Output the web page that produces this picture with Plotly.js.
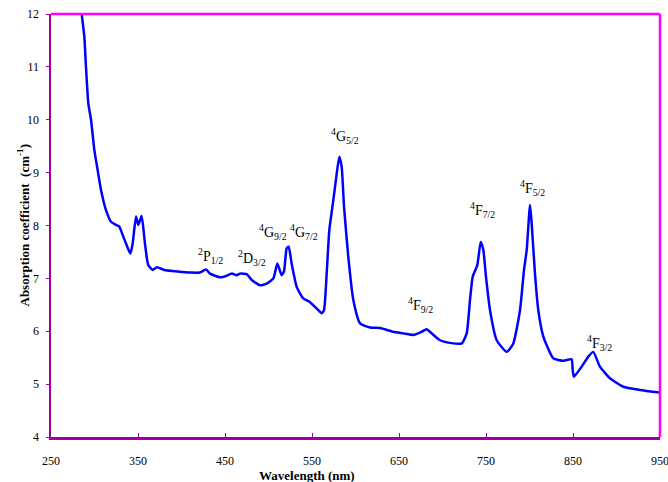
<!DOCTYPE html>
<html>
<head>
<meta charset="utf-8">
<script src="https://cdn.plot.ly/plotly-3.0.1.min.js"></script>
<style>html,body{margin:0;padding:0;background:#fff}#chart{width:668px;height:482px}</style>
</head>
<body>
<div id="chart"></div>
<script>
const wavelength = [285.3,288.3,290.2,292.9,296,299.8,303.6,307.5,313.2,319,324.7,328.5,332.4,336.2,341.2,343.9,347.7,350.4,354.2,358,361.8,366.9,371.8,380,395.6,411,421,428.2,432.8,444.3,452,457.7,463.4,467.2,475,480.7,490.2,498,505.6,510.2,515.1,517.8,520.9,523.2,526.6,532.4,540,547.7,556,561.1,563.8,566.9,569.9,574.5,578.4,581.4,584.1,586.8,591.7,597.5,605.2,616.7,628.2,643.4,655,666.4,676,681.8,687.6,697.1,708.6,722.1,727.8,731.6,734.7,740,743.9,746.9,750,754.6,762.3,773.8,781.4,789.1,793.7,796.8,800.6,802.5,806.3,810.1,815.9,827.4,838.9,848.4,849.6,851.1,859.9,867.6,873.3,881,892.5,907.8,927,950];
const absorption = [12.0,11.57,11.0,10.31,10.0,9.43,9.05,8.67,8.29,8.07,8.01,7.98,7.82,7.66,7.47,7.66,8.17,8.01,8.18,7.66,7.25,7.16,7.21,7.16,7.13,7.11,7.11,7.17,7.09,7.02,7.05,7.09,7.06,7.09,7.08,6.97,6.87,6.90,7.0,7.28,7.06,7.13,7.57,7.60,7.28,6.84,6.62,6.55,6.42,6.34,6.40,7.10,7.91,8.48,8.98,9.30,9.11,8.36,7.41,6.59,6.15,6.07,6.06,5.99,5.96,5.93,5.99,6.04,5.96,5.83,5.78,5.77,5.96,6.59,7.03,7.25,7.69,7.54,7.03,6.40,5.83,5.61,5.77,6.40,7.16,7.54,8.39,8.04,7.09,6.40,5.90,5.49,5.44,5.47,5.27,5.14,5.33,5.52,5.61,5.33,5.11,4.95,4.89,4.84];

const labelText = ['<sup>2</sup>P<sub>1/2</sub>','<sup>2</sup>D<sub>3/2</sub>','<sup>4</sup>G<sub>9/2</sub>','<sup>4</sup>G<sub>7/2</sub>','<sup>4</sup>G<sub>5/2</sub>','<sup>4</sup>F<sub>9/2</sub>','<sup>4</sup>F<sub>7/2</sub>','<sup>4</sup>F<sub>5/2</sub>','<sup>4</sup>F<sub>3/2</sub>'];
const labelX = [433,481,505,541,588,675,746.5,803,881];
const labelY = [7.42,7.38,7.88,7.88,9.69,6.5,8.29,8.71,5.78];

const xTicks = [250,350,450,550,650,750,850,950];
const yTicks = [4,5,6,7,8,9,10,11,12];

const serif = 'Liberation Serif, DejaVu Serif, serif';

const annotations = labelText.map((t,i)=>({
  x: labelX[i], y: labelY[i], xref:'x', yref:'y', text: t, showarrow:false,
  font:{family:serif,size:14,color:'#000'}
}));
annotations.push({xref:'paper',yref:'paper',x:0.42,y:0,yshift:-38,yanchor:'middle',text:'<b>Wavelength (nm)</b>',showarrow:false,font:{family:serif,size:13,color:'#000'}});
annotations.push({xref:'paper',yref:'paper',x:0,xshift:-38,y:0.5,textangle:-90,text:'<b>Absorption coefficient  (cm<sup>-1</sup>)</b>',showarrow:false,font:{family:serif,size:13,color:'#000'}});

const layout = {
  width:668, height:482,
  margin:{l:51,r:8,t:14,b:45},
  paper_bgcolor:'#fff', plot_bgcolor:'#fff',
  showlegend:false,
  font:{family:serif,color:'#000'},
  xaxis:{range:[250,950],tickvals:xTicks,ticktext:xTicks.map(String),showgrid:false,zeroline:false,
    showline:true,linecolor:'#a000a0',linewidth:2.5,ticks:'inside',ticklen:4,tickcolor:'#a000a0',
    tickfont:{family:serif,size:12,color:'#000'},ticklabelstandoff:11,ticklabeloverflow:'allow'},
  yaxis:{range:[4,12],tickvals:yTicks,showgrid:false,zeroline:false,
    showline:true,linecolor:'#a000a0',linewidth:2.5,ticks:'outside',ticklen:3,tickcolor:'#a000a0',
    tickfont:{family:serif,size:12,color:'#000'},ticklabelstandoff:4},
  shapes:[
    {type:'line',xref:'paper',yref:'paper',x0:0,x1:1,y0:1,y1:1,line:{color:'#ff00ff',width:2.5}},
    {type:'line',xref:'paper',yref:'paper',x0:1,x1:1,y0:0,y1:1,line:{color:'#ff00ff',width:2.5}}
  ],
  annotations: annotations
};

Plotly.newPlot('chart',[{x:wavelength,y:absorption,type:'scatter',mode:'lines',
  line:{color:'#0000ff',width:2.5,shape:'spline',smoothing:0.5},cliponaxis:true}],layout,{staticPlot:true});
</script>
</body>
</html>
